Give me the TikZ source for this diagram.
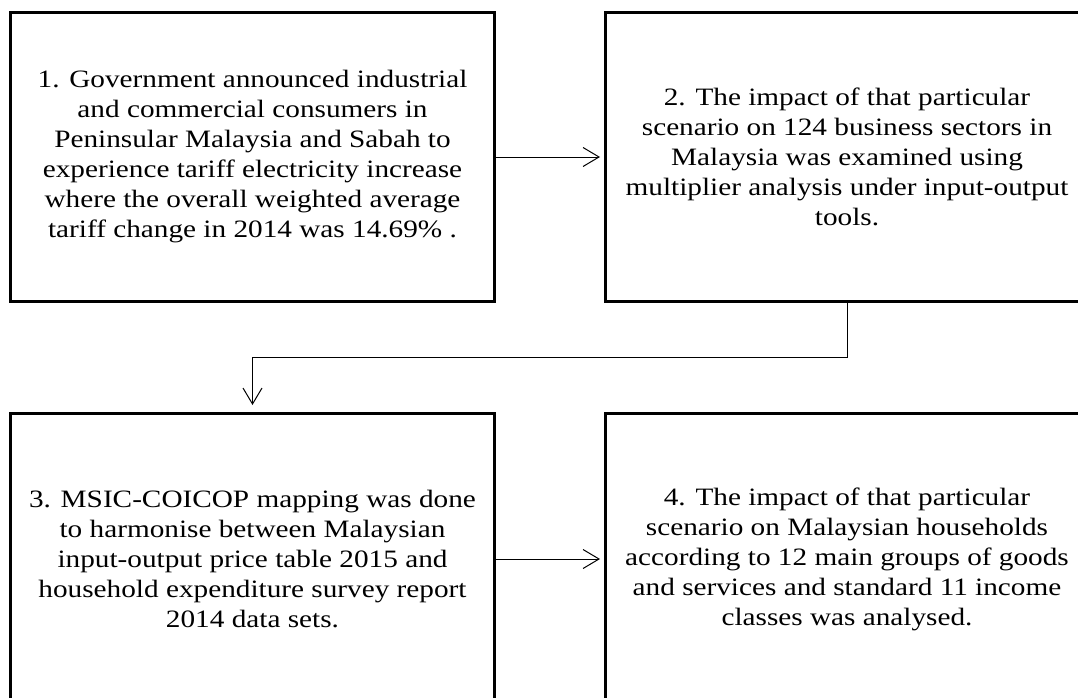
\documentclass[tikz,border=0pt]{standalone}
\usepackage{fontspec}
\setmainfont{Liberation Serif}
\newfontfamily\widefont[FakeStretch=1.17]{Liberation Serif}
\usetikzlibrary{arrows.meta}
\begin{document}
\begin{tikzpicture}[x=1pt,y=1pt,
  stepbox/.style={draw=black,line width=3pt,inner sep=0pt,outer sep=0pt,
    minimum width=484pt,align=center,
    font=\widefont\fontsize{25pt}{30pt}\selectfont},
  arr/.style={line width=1pt,-{Straight Barb[length=16pt,width=19pt,line width=1pt]}}]
\useasboundingbox (0,0) rectangle (1078,-698);
\node[stepbox,minimum height=288pt] (b1) at (252.5,-157) {1. Government announced industrial\\and commercial consumers in\\Peninsular Malaysia and Sabah to\\experience tariff electricity increase\\where the overall weighted average\\tariff change in 2014 was 14.69\% .};
\node[stepbox,minimum height=288pt] (b2) at (847,-157) {2. The impact of that particular\\scenario on 124 business sectors in\\Malaysia was examined using\\multiplier analysis under input-output\\tools.};
\node[stepbox,minimum height=292pt] (b3) at (252.5,-559) {3. MSIC-COICOP mapping was done\\to harmonise between Malaysian\\input-output price table 2015 and\\household expenditure survey report\\2014 data sets.};
\node[stepbox,minimum height=292pt] (b4) at (847,-559) {4. The impact of that particular\\scenario on Malaysian households\\according to 12 main groups of goods\\and services and standard 11 income\\classes was analysed.};
\coordinate (m) at (0,-357);
\draw[arr,shorten >=5pt] (b1.east) -- (b2.west);
\draw[arr,shorten >=5pt] (b3.east) -- (b4.west);
\draw[arr,shorten >=8pt] (b2.south) -- (b2.south |- m) -- (b3.north |- m) -- (b3.north);
\end{tikzpicture}
\end{document}
